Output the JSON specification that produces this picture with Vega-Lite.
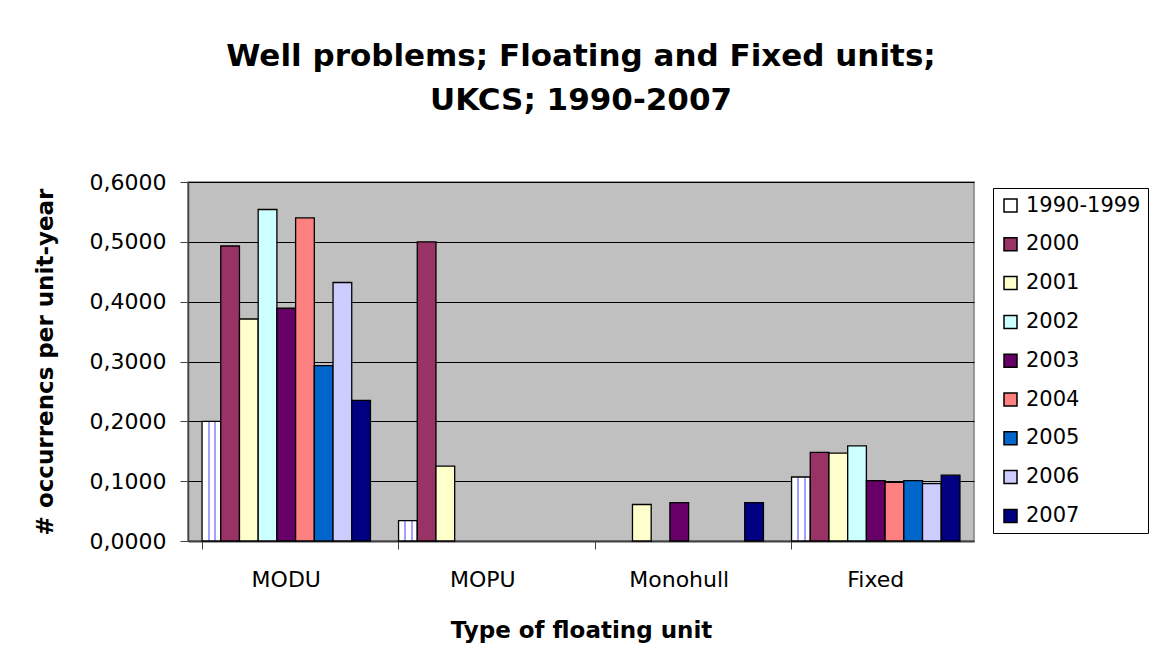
{
  "$schema": "https://vega.github.io/schema/vega-lite/v6.json",
  "width": 786,
  "height": 359,
  "autosize": {"type": "none"},
  "padding": {"left": 188, "top": 182, "right": 179, "bottom": 129},
  "background": "white",
  "title": {
    "text": ["Well problems; Floating and Fixed units;", "UKCS; 1990-2007"],
    "font": "DejaVu Sans",
    "fontSize": 31,
    "fontWeight": "bold",
    "color": "black",
    "anchor": "middle",
    "frame": "group",
    "lineHeight": 44,
    "offset": 54
  },
  "data": {
    "values": [
      {"unit": "MODU", "period": "1990-1999", "value": 0.200},
      {"unit": "MODU", "period": "2000", "value": 0.493},
      {"unit": "MODU", "period": "2001", "value": 0.371},
      {"unit": "MODU", "period": "2002", "value": 0.554},
      {"unit": "MODU", "period": "2003", "value": 0.389},
      {"unit": "MODU", "period": "2004", "value": 0.540},
      {"unit": "MODU", "period": "2005", "value": 0.293},
      {"unit": "MODU", "period": "2006", "value": 0.432},
      {"unit": "MODU", "period": "2007", "value": 0.235},
      {"unit": "MOPU", "period": "1990-1999", "value": 0.034},
      {"unit": "MOPU", "period": "2000", "value": 0.500},
      {"unit": "MOPU", "period": "2001", "value": 0.125},
      {"unit": "Monohull", "period": "2001", "value": 0.061},
      {"unit": "Monohull", "period": "2003", "value": 0.064},
      {"unit": "Monohull", "period": "2007", "value": 0.064},
      {"unit": "Fixed", "period": "1990-1999", "value": 0.107},
      {"unit": "Fixed", "period": "2000", "value": 0.148},
      {"unit": "Fixed", "period": "2001", "value": 0.147},
      {"unit": "Fixed", "period": "2002", "value": 0.159},
      {"unit": "Fixed", "period": "2003", "value": 0.101},
      {"unit": "Fixed", "period": "2004", "value": 0.098},
      {"unit": "Fixed", "period": "2005", "value": 0.101},
      {"unit": "Fixed", "period": "2006", "value": 0.096},
      {"unit": "Fixed", "period": "2007", "value": 0.110}
    ]
  },
  "mark": {"type": "bar", "stroke": "black", "strokeWidth": 1.3},
  "encoding": {
    "x": {
      "field": "unit",
      "type": "nominal",
      "sort": ["MODU", "MOPU", "Monohull", "Fixed"],
      "scale": {"paddingInner": 0.143, "paddingOuter": 0.0715},
      "title": "Type of floating unit",
      "axis": {"labelAngle": 0, "bandPosition": 0, "tickSize": 8, "labelPadding": 20, "titlePadding": 29, "domainWidth": 2, "grid": false}
    },
    "xOffset": {
      "field": "period",
      "type": "nominal",
      "scale": {"domain": ["1990-1999", "2000", "2001", "2002", "2003", "2004", "2005", "2006", "2007"], "paddingInner": 0, "paddingOuter": 0}
    },
    "y": {
      "field": "value",
      "type": "quantitative",
      "scale": {"domain": [0, 0.6]},
      "title": "# occurrencs per unit-year",
      "axis": {"values": [0, 0.1, 0.2, 0.3, 0.4, 0.5, 0.6], "format": ".4f", "tickSize": 8, "labelPadding": 14, "titlePadding": 32, "grid": true, "gridColor": "black", "gridWidth": 1, "domainWidth": 1.5}
    },
    "fill": {
      "condition": {
        "test": "datum.period === '1990-1999'",
        "value": {
          "gradient": "linear", "x1": 0, "x2": 1, "y1": 0, "y2": 0,
          "stops": [
            {"offset": 0, "color": "white"},
            {"offset": 0.3, "color": "white"},
            {"offset": 0.3, "color": "#A0A0FF"},
            {"offset": 0.4, "color": "#A0A0FF"},
            {"offset": 0.4, "color": "white"},
            {"offset": 0.65, "color": "white"},
            {"offset": 0.65, "color": "#A0A0FF"},
            {"offset": 0.75, "color": "#A0A0FF"},
            {"offset": 0.75, "color": "white"},
            {"offset": 1, "color": "white"}
          ]
        }
      },
      "field": "period",
      "type": "nominal",
      "scale": {
        "domain": ["1990-1999", "2000", "2001", "2002", "2003", "2004", "2005", "2006", "2007"],
        "range": ["#FFFFFF", "#993366", "#FFFFCC", "#CCFFFF", "#660066", "#FF8080", "#0066CC", "#CCCCFF", "#000080"]
      },
      "legend": {
        "orient": "none",
        "legendX": 805,
        "legendY": 6,
        "title": null,
        "strokeColor": "black",
        "fillColor": "white",
        "padding": 7,
        "symbolType": "square",
        "symbolSize": 169,
        "symbolStrokeColor": "black",
        "symbolStrokeWidth": 1.5,
        "symbolOpacity": 1,
        "labelFont": "DejaVu Sans",
        "labelFontSize": 21,
        "labelColor": "black",
        "labelOffset": 5,
        "rowPadding": 16.8
      }
    }
  },
  "config": {
    "locale": {"number": {"decimal": ",", "thousands": ".", "grouping": [3], "currency": ["", " €"]}},
    "view": {"fill": "#C0C0C0", "stroke": "#808080", "strokeWidth": 1.5},
    "axis": {
      "labelFont": "DejaVu Sans",
      "labelFontSize": 22,
      "labelColor": "black",
      "titleFont": "DejaVu Sans",
      "titleFontSize": 23,
      "titleFontWeight": "bold",
      "titleColor": "black",
      "domainColor": "#404040",
      "tickColor": "#404040"
    }
  }
}
